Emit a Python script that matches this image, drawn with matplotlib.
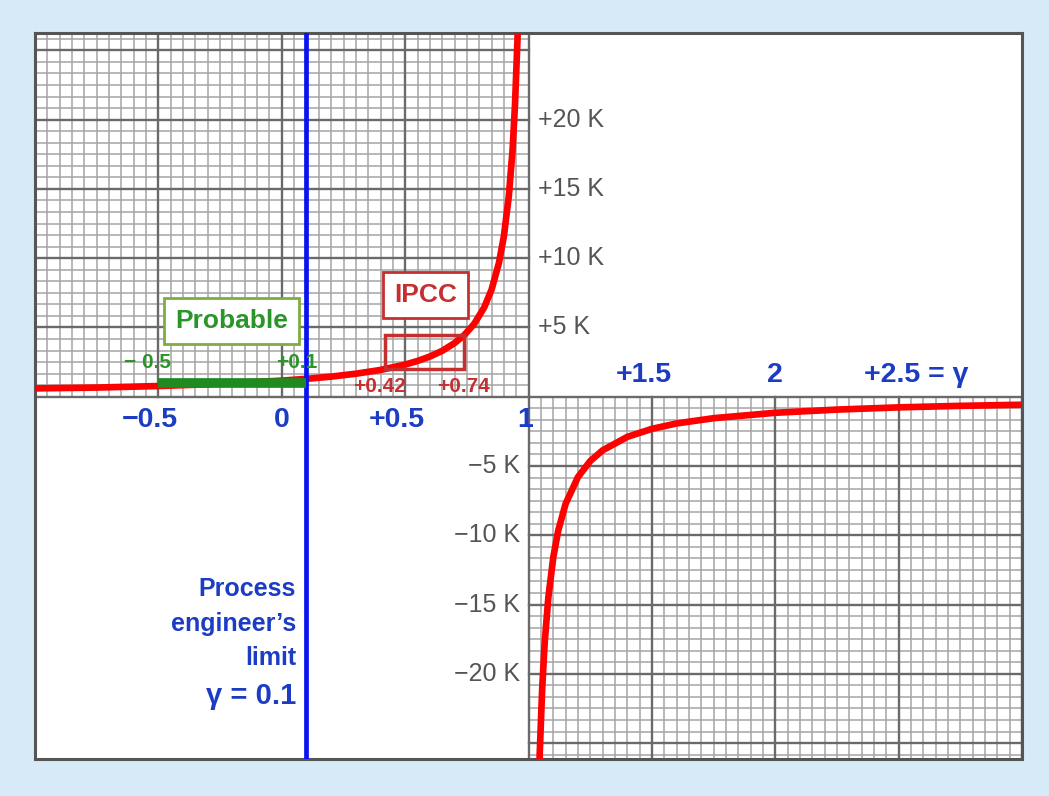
import numpy as np
import matplotlib
matplotlib.use('Agg')
import matplotlib.pyplot as plt
from matplotlib.patches import Rectangle

plt.rcParams['font.family'] = ['Liberation Sans', 'DejaVu Sans']

# feedback fraction gamma vs equilibrium warming (K)
gamma_left = [-1.0, -0.75, -0.5, -0.25, 0.0, 0.1, 0.2, 0.3, 0.4, 0.5, 0.55, 0.6,
              0.65, 0.7, 0.74, 0.78, 0.82, 0.85, 0.88, 0.9, 0.92, 0.935, 0.945,
              0.955, 0.962]
temp_left = [0.6, 0.66, 0.77, 0.93, 1.16, 1.29, 1.45, 1.66, 1.93, 2.32, 2.58, 2.9,
             3.31, 3.87, 4.46, 5.27, 6.44, 7.73, 9.67, 11.6, 14.5, 17.8, 21.1,
             25.8, 30.5]
gamma_right = [1.038, 1.045, 1.055, 1.065, 1.08, 1.1, 1.12, 1.15, 1.2, 1.25, 1.3,
               1.4, 1.5, 1.6, 1.75, 2.0, 2.25, 2.5, 2.75, 3.0]
temp_right = [-30.5, -25.8, -21.1, -17.8, -14.5, -11.6, -9.67, -7.73, -5.8, -4.64,
              -3.87, -2.9, -2.32, -1.93, -1.55, -1.16, -0.93, -0.77, -0.66, -0.58]

probable_range = [-0.5, 0.1]
probable_temp = 1.0
probable_labels = ['\u2212 0.5', '+0.1']
ipcc_range = [0.42, 0.74]
ipcc_temps = [2.0, 4.46]
ipcc_labels = ['+0.42', '+0.74']
engineer_limit = 0.1

xticks_below = [-0.5, 0, 0.5, 1]
xlabels_below = ['\u22120.5', '0', '+0.5', '1']
xticks_above = [1.5, 2, 2.5]
xlabels_above = ['+1.5', '2', '+2.5 = \u03b3']
yticks_pos = [5, 10, 15, 20]
ylabels_pos = ['+5 K', '+10 K', '+15 K', '+20 K']
yticks_neg = [-5, -10, -15, -20]
ylabels_neg = ['\u22125 K', '\u221210 K', '\u221215 K', '\u221220 K']

BLUE_TXT = '#1c3cc4'
GREEN = '#2a962a'
DARKRED = '#c62f30'
MINOR = dict(color='#a4a4a4', lw=1.1, zorder=1)
MAJOR = dict(color='#6a6a6a', lw=1.7, zorder=2)

fig = plt.figure(figsize=(10.49, 7.96), dpi=100, facecolor='#d6eaf8')
ax = fig.add_axes([0.0334, 0.0465, 0.941, 0.912])
ax.set_xlim(-1, 3)
ax.set_ylim(-26.15, 26.25)
ax.set_xticks([])
ax.set_yticks([])
for s in ax.spines.values():
    s.set_color('#555555')
    s.set_linewidth(2.2)

# graph paper in the upper-left and lower-right quadrants
ytop, ybot = 26.25, -26.15
xstep, ystep = 0.05, 5 / 6


def paper(x0, x1, y0, y1):
    for x in np.arange(x0, x1 + 1e-6, xstep):
        major = abs(x * 2 - round(x * 2)) < 1e-6
        ax.plot([x, x], [y0, y1], **(MAJOR if major else MINOR))
    ys = np.arange(0, max(abs(y0), abs(y1)), ystep)
    sign = 1 if y1 > 0 else -1
    for y in ys:
        major = abs(y / 5 - round(y / 5)) < 1e-6
        ax.plot([x0, x1], [sign * y, sign * y], **(MAJOR if major else MINOR))


paper(-1, 1, 0, ytop)
paper(1, 3, ybot, 0)

# response curve
ax.plot(gamma_left, temp_left, color='#ff0000', lw=4.8, zorder=4, solid_capstyle='butt')
ax.plot(gamma_right, temp_right, color='#ff0000', lw=4.8, zorder=4, solid_capstyle='butt')

# process engineer's limit
ax.axvline(engineer_limit, color='#0a12f0', lw=3.4, zorder=5)
ax.text(0.057, -16.4, "Process\nengineer\u2019s\nlimit", color=BLUE_TXT, fontsize=18,
        fontweight='bold', ha='right', va='center', multialignment='right',
        linespacing=1.55, zorder=6)
ax.text(0.057, -21.6, '\u03b3 = 0.1', color=BLUE_TXT, fontsize=21,
        fontweight='bold', ha='right', va='center', zorder=6)

# probable range
ax.plot(probable_range, [probable_temp, probable_temp], color='#1f8a1f', lw=7,
        solid_capstyle='butt', zorder=5)
ax.text(probable_range[0] - 0.045, 2.45, probable_labels[0], color=GREEN,
        fontsize=15, fontweight='bold', ha='center', va='center', zorder=6)
ax.text(probable_range[1] - 0.04, 2.45, probable_labels[1], color=GREEN,
        fontsize=15, fontweight='bold', ha='center', va='center', zorder=6)
ax.text(-0.203, 5.48, 'Probable', color=GREEN, fontsize=19, fontweight='bold',
        ha='center', va='center', zorder=6,
        bbox=dict(boxstyle='square,pad=0.42', fc='white', ec='#80ad40', lw=2))

# IPCC range
ax.add_patch(Rectangle((ipcc_range[0], ipcc_temps[0]), ipcc_range[1] - ipcc_range[0],
                       ipcc_temps[1] - ipcc_temps[0], fill=False, ec=DARKRED,
                       lw=2.5, zorder=5))
ax.text(ipcc_range[0] - 0.022, 0.75, ipcc_labels[0], color=DARKRED, fontsize=15,
        fontweight='bold', ha='center', va='center', zorder=6)
ax.text(ipcc_range[1] - 0.004, 0.75, ipcc_labels[1], color=DARKRED, fontsize=15,
        fontweight='bold', ha='center', va='center', zorder=6)
ax.text(0.581, 7.36, 'IPCC', color=DARKRED, fontsize=19, fontweight='bold',
        ha='center', va='center', zorder=6,
        bbox=dict(boxstyle='square,pad=0.42', fc='white', ec=DARKRED, lw=2))

# axis labels
shift_below = [-0.035, 0, -0.032, -0.015]
for v, lab, d in zip(xticks_below, xlabels_below, shift_below):
    ax.text(v + d, -1.66, lab, color=BLUE_TXT, fontsize=20.5, fontweight='bold',
            ha='center', va='center', zorder=6)
for v, lab in zip(xticks_above[:2], xlabels_above[:2]):
    ax.text(v + (0.0 if lab == '2' else -0.033), 1.59, lab, color=BLUE_TXT,
            fontsize=20.5, fontweight='bold', ha='center', va='center', zorder=6)
ax.text(xticks_above[2] - 0.142, 1.59, xlabels_above[2], color=BLUE_TXT, fontsize=20.5,
        fontweight='bold', ha='left', va='center', zorder=6)
for v, lab in zip(yticks_pos, ylabels_pos):
    ax.text(1.037, v, lab, color='#555555', fontsize=18, ha='left', va='center', zorder=6)
for v, lab in zip(yticks_neg, ylabels_neg):
    ax.text(0.967, v, lab, color='#555555', fontsize=18, ha='right', va='center', zorder=6)

fig.savefig('out.png', dpi=100, facecolor=fig.get_facecolor())
